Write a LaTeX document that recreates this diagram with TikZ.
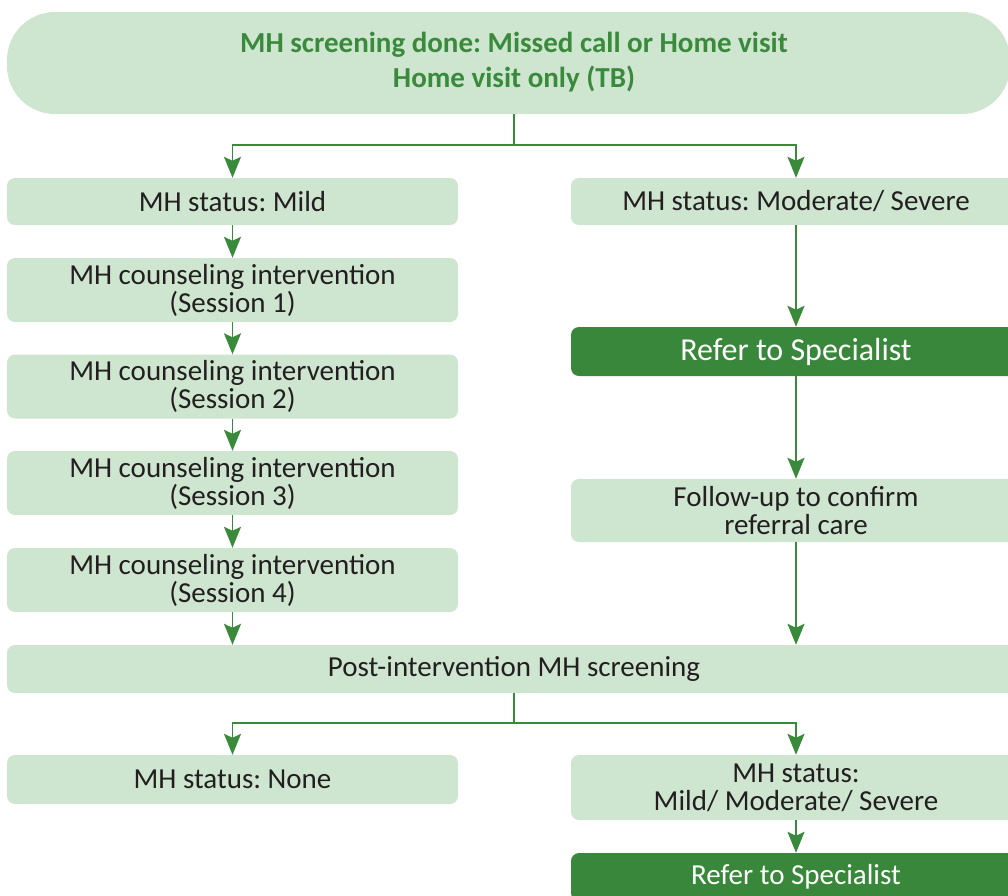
\documentclass[tikz,border=0pt]{standalone}
\usepackage{fontspec}
\setmainfont{Carlito}
\usetikzlibrary{arrows.meta}
\definecolor{lightg}{HTML}{CEE5CF}
\definecolor{darkg}{HTML}{39873A}
\definecolor{linkg}{HTML}{3A8A3C}
\definecolor{txt}{HTML}{231F20}
\frenchspacing
\tikzset{
  box/.style={rounded corners=8pt, fill=lightg, inner sep=0pt, align=center, text=txt,
    font=\frenchspacing\fontsize{29}{28}\selectfont},
  darkbox/.style={box, fill=darkg, text=white},
  link/.style={draw=linkg, line width=1.8pt},
  arr/.style={link, -{Stealth[length=21pt,width=17pt,inset=4pt]}}
}
\begin{document}
\begin{tikzpicture}[x=1pt,y=-1pt]
\useasboundingbox (0,0) rectangle (1008,895);
\clip (0,0) rectangle (1008,895);
% top
\node[box, rounded corners=48pt, minimum width=1003, minimum height=102] (top) at (508.5,63) {};
\node[inner sep=0pt, align=center, text=linkg, font=\frenchspacing\bfseries\fontsize{29}{35}\selectfont] (toptext) at (514,62)
  {MH screening done: Missed call or Home visit\\Home visit only (TB)};
% left column
\node[box, minimum width=451, minimum height=47] (mild) at (232.5,201.5) {MH status: Mild};
\node[box, minimum width=451, minimum height=64] (s1) at (232.5,290) {MH counseling intervention\\(Session 1)};
\node[box, minimum width=451, minimum height=64] (s2) at (232.5,386.5) {MH counseling intervention\\(Session 2)};
\node[box, minimum width=451, minimum height=64] (s3) at (232.5,483) {MH counseling intervention\\(Session 3)};
\node[box, minimum width=451, minimum height=64] (s4) at (232.5,580) {MH counseling intervention\\(Session 4)};
% right column
\node[box, minimum width=450, minimum height=47] (mod) at (796,201.5) {MH status: Moderate/ Severe};
\node[darkbox, minimum width=450, minimum height=49, font=\frenchspacing\fontsize{32}{33}\selectfont] (ref1) at (796,351.5) {Refer to Specialist};
\node[box, minimum width=450, minimum height=63] (fu) at (796,510.5) {Follow-up to confirm\\referral care};
% post
\node[box, minimum width=1014, minimum height=48] (post) at (514,669) {Post-intervention MH screening};
\node[box, minimum width=451, minimum height=49] (none) at (232.5,779.5) {MH status: None};
\node[box, minimum width=450, minimum height=65] (mms) at (796,787.5) {MH status:\\Mild/ Moderate/ Severe};
\node[darkbox, minimum width=450, minimum height=48, font=\frenchspacing\fontsize{29}{30}\selectfont] (ref2) at (796,877) {Refer to Specialist};
% connectors
\draw[link] (toptext|-top.south) -- ++(0,31) coordinate (j1);
\draw[arr] (j1) -| (mild.north);
\draw[arr] (j1) -| (mod.north);
\draw[arr] (mild) -- (s1);
\draw[arr] (s1) -- (s2);
\draw[arr] (s2) -- (s3);
\draw[arr] (s3) -- (s4);
\draw[arr] (s4.south) -- (s4.south|-post.north);
\draw[arr] (mod) -- (ref1);
\draw[arr] (ref1) -- (fu);
\draw[arr] (fu.south) -- (fu.south|-post.north);
\draw[link] (post.south) -- ++(0,30) coordinate (j2);
\draw[arr] (j2) -| (none.north);
\draw[arr] (j2) -| (mms.north);
\draw[arr] (mms) -- (ref2);
\end{tikzpicture}
\end{document}
